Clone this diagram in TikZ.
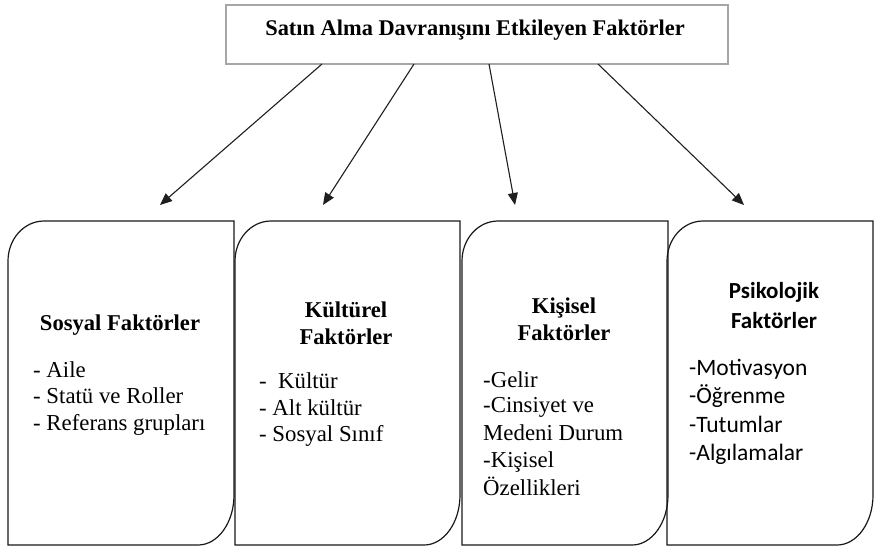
\documentclass[tikz,border=0pt]{standalone}
\usepackage{fontspec}
\setmainfont{Liberation Serif}
\newfontfamily\calfont{Carlito}
\usetikzlibrary{arrows.meta}
\tikzset{
  cardline/.style={draw=black!90, line width=1.2pt},
  topbox/.style={draw=black!35, line width=1.3pt, rectangle, inner sep=0pt},
  conn/.style={draw=black!88, line width=1.1pt, -{Triangle[length=12pt,width=10pt]}},
  ttl/.style={anchor=base, inner sep=0pt, font=\bfseries\fontsize{22.4}{27}\selectfont},
  head/.style={anchor=base, inner sep=0pt, font=\bfseries\fontsize{22.6}{27}\selectfont},
  itm/.style={anchor=base west, inner sep=0pt, font=\fontsize{22.8}{27}\selectfont},
  chead/.style={anchor=base, inner sep=0pt, font=\calfont\bfseries\fontsize{23}{27}\selectfont},
  citm/.style={anchor=base west, inner sep=0pt, font=\calfont\fontsize{23.5}{27}\selectfont}
}
\newcommand\cardshape[2]{%
  \draw[cardline] (#1,261) .. controls (#1,238.9) and (#1+16.1,221) .. (#1+36,221)
    -- (#2,221) -- (#2,495) .. controls (#2,522.6) and (#2-16.1,545) .. (#2-36,545)
    -- (#1,545) -- cycle;}
\begin{document}
\begin{tikzpicture}[x=1pt,y=-1pt]
\useasboundingbox[fill=white] (0,0) rectangle (874,550);
% top box
\node[topbox, minimum width=502pt, minimum height=59pt] (top) at (477,34.5) {};
\node[ttl] (title) at (475,35) {Satın Alma Davranışını Etkileyen Faktörler};
% cards
\cardshape{8}{234}
\cardshape{235}{460}
\cardshape{462}{668}
\cardshape{667}{873}
% arrows
\coordinate (s1) at (322,64); \coordinate (e1) at (160,205);
\coordinate (s2) at (414,64); \coordinate (e2) at (323,205);
\coordinate (s3) at (489,64); \coordinate (e3) at (515,205);
\coordinate (s4) at (598,64); \coordinate (e4) at (744,205);
\draw[conn] (s1) -- (e1);
\draw[conn] (s2) -- (e2);
\draw[conn] (s3) -- (e3);
\draw[conn] (s4) -- (e4);
% card 1
\node[head] (h1) at (120,330) {Sosyal Faktörler};
\node[itm] (a1) at (33,377) {- Aile};
\node[itm] (a2) at (33,403) {- Statü ve Roller};
\node[itm] (a3) at (33,430) {- Referans grupları};
% card 2
\node[head] (h2a) at (346,317) {Kültürel};
\node[head] (h2b) at (346,344) {Faktörler};
\node[itm] (b1) at (259,388) {-\ \ Kültür};
\node[itm] (b2) at (259,415) {- Alt kültür};
\node[itm] (b3) at (259,441) {- Sosyal Sınıf};
% card 3
\node[head] (h3a) at (564,313) {Kişisel};
\node[head] (h3b) at (564,340) {Faktörler};
\node[itm] (c1) at (483,387) {-Gelir};
\node[itm] (c2) at (483,412) {-Cinsiyet ve};
\node[itm] (c3) at (483,440) {Medeni Durum};
\node[itm] (c4) at (483,467) {-Kişisel};
\node[itm] (c5) at (483,495) {Özellikleri};
% card 4
\node[chead] (h4a) at (774,298) {Psikolojik};
\node[chead] (h4b) at (774,328) {Faktörler};
\node[citm] (d1) at (689,375) {-Motivasyon};
\node[citm] (d2) at (689,403) {-Öğrenme};
\node[citm] (d3) at (689,432) {-Tutumlar};
\node[citm] (d4) at (689,460) {-Algılamalar};
\end{tikzpicture}
\end{document}
